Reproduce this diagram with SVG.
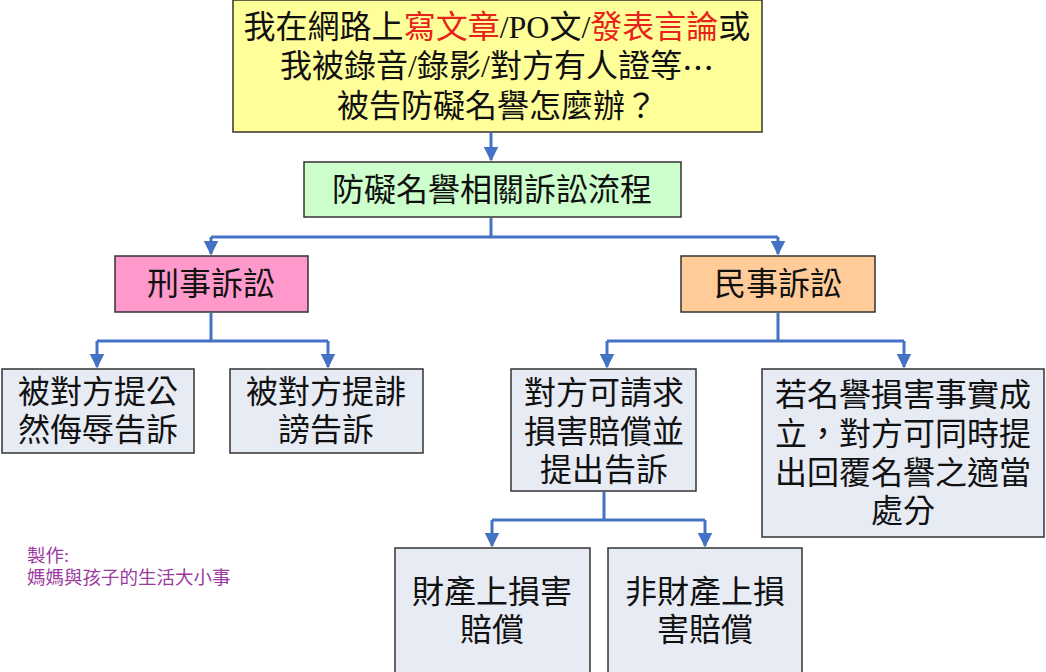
<svg xmlns="http://www.w3.org/2000/svg" width="1046" height="672" viewBox="0 0 1046 672">
<style>
.box{stroke:#333;stroke-width:1.5}
.t{font-family:"Liberation Serif","Noto Sans CJK TC",serif;font-size:32px;fill:#111;text-anchor:middle;dominant-baseline:central}
.red{fill:#e8231c}
.cjk{font-family:"Noto Sans CJK TC",sans-serif}
.c{fill:none;stroke:#4472C4;stroke-width:3}
.credit{font-family:"Liberation Serif","Noto Sans CJK TC",serif;font-size:18.5px;fill:#9b3aa0}
</style>
<defs>
<marker id="ah" viewBox="0 0 10 10" refX="9" refY="5" markerWidth="5" markerHeight="5" orient="auto" markerUnits="strokeWidth">
<path d="M0,0 L10,5 L0,10 z" fill="#4472C4"/>
</marker>
</defs>
<rect width="1046" height="672" fill="#fff"/>
<g id="connectors">
<path class="c" d="M491,133 V160" marker-end="url(#ah)"/>
<path class="c" d="M491,218 V237 M211,237 H778"/>
<path class="c" d="M211,237 V254" marker-end="url(#ah)"/>
<path class="c" d="M778,237 V254" marker-end="url(#ah)"/>
<path class="c" d="M211,313 V341 M97,341 H328"/>
<path class="c" d="M97,341 V367" marker-end="url(#ah)"/>
<path class="c" d="M328,341 V367" marker-end="url(#ah)"/>
<path class="c" d="M778,313 V341 M607,341 H904"/>
<path class="c" d="M607,341 V367" marker-end="url(#ah)"/>
<path class="c" d="M904,341 V367" marker-end="url(#ah)"/>
<path class="c" d="M604,492 V520 M492,520 H705"/>
<path class="c" d="M492,520 V546" marker-end="url(#ah)"/>
<path class="c" d="M705,520 V546" marker-end="url(#ah)"/>
</g>
<g id="top">
<rect class="box" x="233" y="0" width="529" height="132" fill="#ffff99"/>
<text class="t" x="497" y="27">我在網路上<tspan class="red">寫文章</tspan>/PO文/<tspan class="red">發表言論</tspan>或</text>
<text class="t" x="497" y="66">我被錄音/錄影/對方有人證等<tspan class="cjk">⋯</tspan></text>
<text class="t" x="497" y="106">被告防礙名譽怎麼辦？</text>
</g>
<g id="process">
<rect class="box" x="304" y="162" width="377" height="55" fill="#ccffcc"/>
<text class="t" x="492" y="190">防礙名譽相關訴訟流程</text>
</g>
<g id="criminal">
<rect class="box" x="115" y="256" width="193" height="56" fill="#ff99cc"/>
<text class="t" x="211" y="284">刑事訴訟</text>
</g>
<g id="civil">
<rect class="box" x="681" y="256" width="194" height="56" fill="#ffcc99"/>
<text class="t" x="778" y="284">民事訴訟</text>
</g>
<g id="insult">
<rect class="box" x="2" y="369" width="192" height="84" fill="#e7ebf4"/>
<text class="t" x="98" y="392">被對方提公</text>
<text class="t" x="98" y="430">然侮辱告訴</text>
</g>
<g id="defamation">
<rect class="box" x="230" y="369" width="193" height="84" fill="#e7ebf4"/>
<text class="t" x="326" y="392">被對方提誹</text>
<text class="t" x="326" y="430">謗告訴</text>
</g>
<g id="damages">
<rect class="box" x="511" y="369" width="185" height="122" fill="#e7ebf4"/>
<text class="t" x="604" y="393">對方可請求</text>
<text class="t" x="604" y="432">損害賠償並</text>
<text class="t" x="604" y="470">提出告訴</text>
</g>
<g id="restore">
<rect class="box" x="762" y="369" width="282" height="168" fill="#e7ebf4"/>
<text class="t" x="903" y="395">若名譽損害事實成</text>
<text class="t" x="903" y="434">立，對方可同時提</text>
<text class="t" x="903" y="473">出回覆名譽之適當</text>
<text class="t" x="903" y="511">處分</text>
</g>
<g id="property">
<rect class="box" x="395" y="548" width="195" height="126" fill="#e7ebf4"/>
<text class="t" x="492" y="592">財產上損害</text>
<text class="t" x="492" y="630">賠償</text>
</g>
<g id="nonproperty">
<rect class="box" x="608" y="548" width="194" height="126" fill="#e7ebf4"/>
<text class="t" x="705" y="592">非財產上損</text>
<text class="t" x="705" y="630">害賠償</text>
</g>
<g id="credit">
<text class="credit" x="27" y="562">製作:</text>
<text class="credit" x="27" y="584">媽媽與孩子的生活大小事</text>
</g>
</svg>
